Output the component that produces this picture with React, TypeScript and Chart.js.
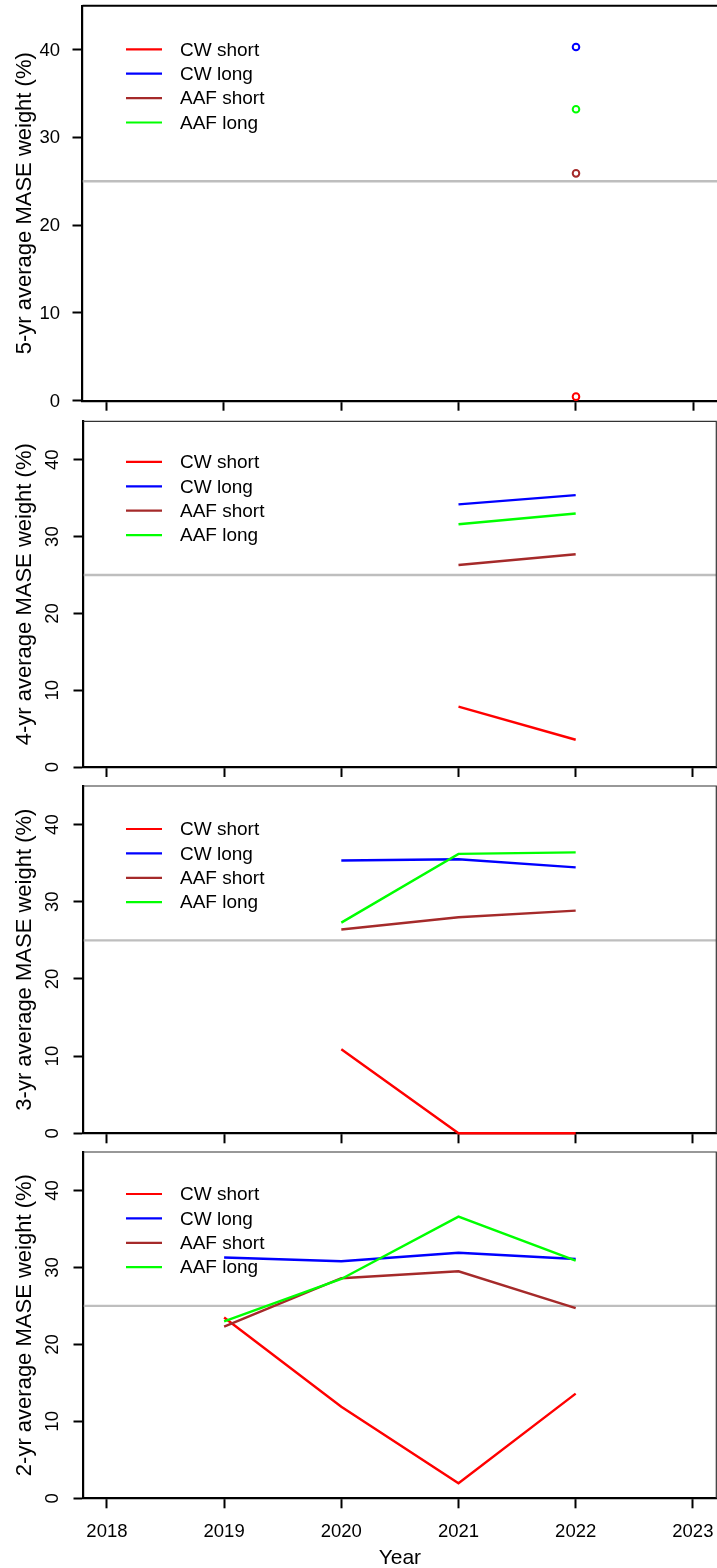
import React, { useEffect, useRef } from "react";
import { Chart, registerables } from "chart.js";

Chart.register(...registerables);

// ---------- data ----------
const YEARS = [2019, 2020, 2021, 2022];
const X_TICKS = [2018, 2019, 2020, 2021, 2022, 2023];
const Y_TICKS = [0, 10, 20, 30, 40];
const X_MIN = 2017.8;
const X_MAX = 2023.2;
const Y_MIN = 0;
const Y_MAX = 45;
const SERIES = ["CW short", "CW long", "AAF short", "AAF long"];
const COLORS = ["#FF0000", "#0000FF", "#A52A2A", "#00FF00"];
const EQUAL_WEIGHT = 25;
const X_TITLE = "Year";

// 5-yr average
const AVG5_CW_SHORT = [null, null, null, 0.46];
const AVG5_CW_LONG = [null, null, null, 40.3];
const AVG5_AAF_SHORT = [null, null, null, 25.9];
const AVG5_AAF_LONG = [null, null, null, 33.2];

// 4-yr average
const AVG4_CW_SHORT = [null, null, 7.85, 3.55];
const AVG4_CW_LONG = [null, null, 34.2, 35.4];
const AVG4_AAF_SHORT = [null, null, 26.3, 27.7];
const AVG4_AAF_LONG = [null, null, 31.6, 33.0];

// 3-yr average
const AVG3_CW_SHORT = [null, 10.9, 0, 0];
const AVG3_CW_LONG = [null, 35.35, 35.5, 34.45];
const AVG3_AAF_SHORT = [null, 26.4, 28.0, 28.85];
const AVG3_AAF_LONG = [null, 27.3, 36.2, 36.4];

// 2-yr average
const AVG2_CW_SHORT = [23.5, 11.9, 1.95, 13.6];
const AVG2_CW_LONG = [31.3, 30.8, 31.9, 31.1];
const AVG2_AAF_SHORT = [22.3, 28.6, 29.5, 24.7];
const AVG2_AAF_LONG = [23.0, 28.5, 36.6, 30.9];

const Y_TITLES = [
  "5-yr average MASE weight (%)",
  "4-yr average MASE weight (%)",
  "3-yr average MASE weight (%)",
  "2-yr average MASE weight (%)",
];

// ---------- layout ----------
const FONT = '"Liberation Sans", Arial, Helvetica, sans-serif';

type PanelCfg = {
  title: string;
  series: (number | null)[][];
  points: boolean;
  top: number;
  height: number;
  padTop: number;
  xAxisH: number;
  yAxisW: number;
  padRight: number;
  rotatedTicks: boolean;
  showXLabels: boolean;
  legendTop: number;
  boxColor: string;
  boxWidth: number;
  drawRight: boolean;
};

const PANELS: PanelCfg[] = [
  {
    title: Y_TITLES[0],
    series: [AVG5_CW_SHORT, AVG5_CW_LONG, AVG5_AAF_SHORT, AVG5_AAF_LONG],
    points: true,
    top: 0,
    height: 414,
    padTop: 5.7,
    xAxisH: 13.3,
    yAxisW: 82.5,
    padRight: 0,
    rotatedTicks: false,
    showXLabels: false,
    legendTop: 43.6,
    boxColor: "#000000",
    boxWidth: 2,
    drawRight: false,
  },
  {
    title: Y_TITLES[1],
    series: [AVG4_CW_SHORT, AVG4_CW_LONG, AVG4_AAF_SHORT, AVG4_AAF_LONG],
    points: false,
    top: 414,
    height: 366,
    padTop: 7.4,
    xAxisH: 13,
    yAxisW: 83.5,
    padRight: 0.7,
    rotatedTicks: true,
    showXLabels: false,
    legendTop: 40.5,
    boxColor: "#333333",
    boxWidth: 1.2,
    drawRight: true,
  },
  {
    title: Y_TITLES[2],
    series: [AVG3_CW_SHORT, AVG3_CW_LONG, AVG3_AAF_SHORT, AVG3_AAF_LONG],
    points: false,
    top: 780,
    height: 366,
    padTop: 6,
    xAxisH: 12.7,
    yAxisW: 83.5,
    padRight: 0.7,
    rotatedTicks: true,
    showXLabels: false,
    legendTop: 43,
    boxColor: "#333333",
    boxWidth: 1.2,
    drawRight: true,
  },
  {
    title: Y_TITLES[3],
    series: [AVG2_CW_SHORT, AVG2_CW_LONG, AVG2_AAF_SHORT, AVG2_AAF_LONG],
    points: false,
    top: 1146,
    height: 422,
    padTop: 6,
    xAxisH: 69.7,
    yAxisW: 83.5,
    padRight: 0.7,
    rotatedTicks: true,
    showXLabels: true,
    legendTop: 42,
    boxColor: "#333333",
    boxWidth: 1.2,
    drawRight: true,
  },
];

const panelDecor = {
  id: "panelDecor",
  afterDraw(chart: any, _args: any, opts: any) {
    const ctx: CanvasRenderingContext2D = chart.ctx;
    const { left, right, top, bottom } = chart.chartArea;
    const ys = chart.scales.y;
    const xs = chart.scales.x;
    ctx.save();

    // box (top / right)
    ctx.strokeStyle = opts.boxColor;
    ctx.lineWidth = opts.boxWidth;
    ctx.beginPath();
    ctx.moveTo(left, top);
    ctx.lineTo(right, top);
    if (opts.drawRight) ctx.lineTo(right, bottom);
    ctx.stroke();

    ctx.fillStyle = "#000000";
    // y tick labels
    ctx.font = `18.5px ${FONT}`;
    for (const v of Y_TICKS) {
      const y = ys.getPixelForValue(v);
      if (opts.rotatedTicks) {
        ctx.save();
        ctx.translate(53, y);
        ctx.rotate(-Math.PI / 2);
        ctx.textAlign = "center";
        ctx.textBaseline = "middle";
        ctx.fillText(String(v), 0, 0);
        ctx.restore();
      } else {
        ctx.textAlign = "right";
        ctx.textBaseline = "middle";
        ctx.fillText(String(v), 60, y + 1);
      }
    }

    // y title
    ctx.save();
    ctx.font = `22px ${FONT}`;
    ctx.translate(25, (top + bottom) / 2);
    ctx.rotate(-Math.PI / 2);
    ctx.textAlign = "center";
    ctx.textBaseline = "middle";
    ctx.fillText(opts.title, 0, 0);
    ctx.restore();

    // x labels
    if (opts.showXLabels) {
      ctx.font = `18.5px ${FONT}`;
      ctx.textAlign = "center";
      ctx.textBaseline = "middle";
      for (const t of X_TICKS) {
        ctx.fillText(String(t), xs.getPixelForValue(t), bottom + 34);
      }
      ctx.font = `21px ${FONT}`;
      ctx.fillText(X_TITLE, (left + right) / 2, bottom + 59.5);
    }

    // legend
    ctx.font = `19px ${FONT}`;
    ctx.textAlign = "left";
    ctx.textBaseline = "middle";
    const ds = chart.data.datasets.filter((d: any) => SERIES.includes(d.label));
    ds.forEach((d: any, i: number) => {
      const y = top + opts.legendTop + i * 24.4;
      ctx.strokeStyle = d.borderColor;
      ctx.lineWidth = 2.2;
      ctx.beginPath();
      ctx.moveTo(126, y);
      ctx.lineTo(162, y);
      ctx.stroke();
      ctx.fillStyle = "#000000";
      ctx.fillText(d.label, 180, y + 1);
    });

    ctx.restore();
  },
};

function Panel({ cfg }: { cfg: PanelCfg }) {
  const ref = useRef<HTMLCanvasElement>(null);
  useEffect(() => {
    if (!ref.current) return;
    const datasets: any[] = cfg.series.map((vals, i) => ({
      label: SERIES[i],
      data: YEARS.map((yr, j) => ({ x: yr, y: vals[j] })),
      borderColor: COLORS[i],
      backgroundColor: cfg.points ? "rgba(0,0,0,0)" : COLORS[i],
      borderWidth: 2.4,
      showLine: !cfg.points,
      pointRadius: cfg.points ? 3.3 : 0,
      pointHoverRadius: 0,
      pointBorderWidth: 2,
      pointBorderColor: COLORS[i],
      pointBackgroundColor: "rgba(0,0,0,0)",
      tension: 0,
      clip: 4,
      order: 3 - i,
    }));
    datasets.push({
      label: "equal weight",
      data: [
        { x: X_MIN, y: EQUAL_WEIGHT },
        { x: X_MAX, y: EQUAL_WEIGHT },
      ],
      borderColor: "#BEBEBE",
      borderWidth: 2.4,
      pointRadius: 0,
      pointHoverRadius: 0,
      showLine: true,
      order: 10,
    });

    const chart = new Chart(ref.current, {
      type: "line",
      data: { datasets },
      options: {
        responsive: false,
        animation: false,
        devicePixelRatio: 1,
        events: [],
        layout: {
          autoPadding: false,
          padding: { top: cfg.padTop, left: 0, right: cfg.padRight, bottom: 0 },
        },
        plugins: {
          legend: { display: false },
          tooltip: { enabled: false },
          panelDecor: {
            title: cfg.title,
            rotatedTicks: cfg.rotatedTicks,
            showXLabels: cfg.showXLabels,
            legendTop: cfg.legendTop,
            boxColor: cfg.boxColor,
            boxWidth: cfg.boxWidth,
            drawRight: cfg.drawRight,
          },
        } as any,
        scales: {
          x: {
            type: "linear",
            min: X_MIN,
            max: X_MAX,
            afterBuildTicks: (s: any) => {
              s.ticks = X_TICKS.map((v) => ({ value: v }));
            },
            afterFit: (s: any) => {
              s.height = cfg.xAxisH;
            },
            ticks: { display: false },
            grid: {
              drawOnChartArea: false,
              drawTicks: true,
              tickLength: 10,
              tickWidth: 2,
              tickColor: "#000000",
            },
            border: { display: true, color: "#000000", width: 2.2 },
          },
          y: {
            type: "linear",
            min: Y_MIN,
            max: Y_MAX,
            afterBuildTicks: (s: any) => {
              s.ticks = Y_TICKS.map((v) => ({ value: v }));
            },
            afterFit: (s: any) => {
              s.width = cfg.yAxisW;
            },
            ticks: { display: false },
            grid: {
              drawOnChartArea: false,
              drawTicks: true,
              tickLength: 10,
              tickWidth: 2,
              tickColor: "#000000",
            },
            border: { display: true, color: "#000000", width: 2.2 },
          },
        },
      },
      plugins: [panelDecor as any],
    });
    return () => chart.destroy();
  }, [cfg]);

  return (
    <canvas
      ref={ref}
      width={717}
      height={cfg.height}
      style={{ position: "absolute", left: 0, top: cfg.top, width: 717, height: cfg.height }}
    />
  );
}

export default function App() {
  return (
    <div
      style={{
        position: "absolute",
        left: 0,
        top: 0,
        width: 717,
        height: 1568,
        background: "#FFFFFF",
        overflow: "hidden",
      }}
    >
      {PANELS.map((p, i) => (
        <Panel key={i} cfg={p} />
      ))}
    </div>
  );
}
